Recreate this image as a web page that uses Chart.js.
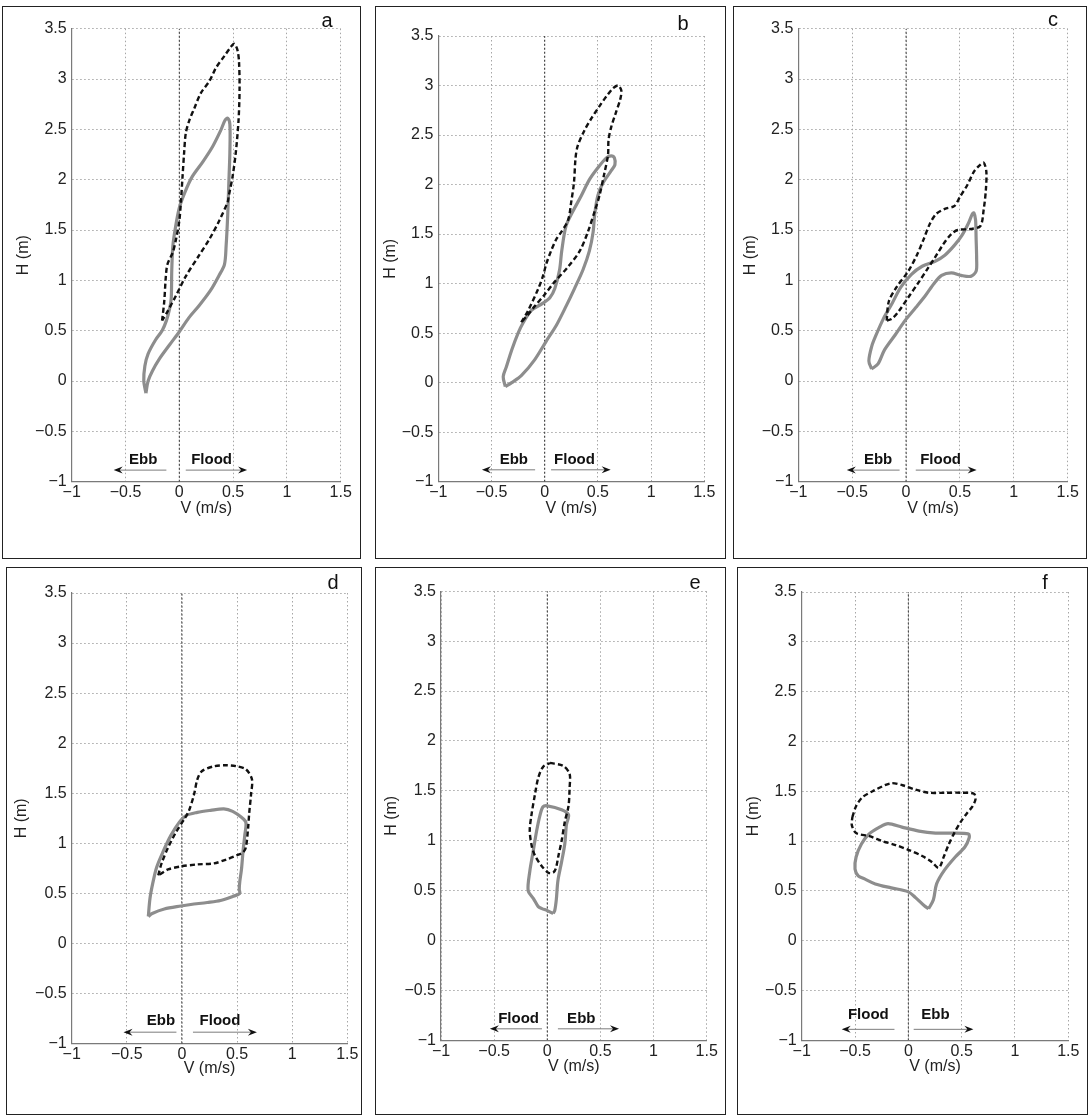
<!DOCTYPE html>
<html><head><meta charset="utf-8">
<script src="https://cdn.jsdelivr.net/npm/chart.js@4.4.0/dist/chart.umd.min.js"></script>
<style>
html,body{margin:0;padding:0;background:#fff;width:1089px;height:1117px;overflow:hidden;position:relative;}
canvas{position:absolute;}
.box{position:absolute;box-sizing:border-box;border:1.6px solid #222;pointer-events:none;}
.lab{position:absolute;font:20px "Liberation Sans",Arial,sans-serif;color:#111;transform:translate(-50%,-50%);}
</style></head><body>
<script>
// ---- axis ticks ----
const xTicks = [-1, -0.5, 0, 0.5, 1, 1.5];
const yTicks = [-1, -0.5, 0, 0.5, 1, 1.5, 2, 2.5, 3, 3.5];
const zeroLineV = [0, 0];
const zeroLineH = [-1, 3.5];

// ---- panel a ----
const solidA = [[-0.31,-0.12],[-0.33,0.0],[-0.32,0.15],[-0.29,0.27],[-0.22,0.41],[-0.16,0.50],[-0.12,0.60],[-0.09,0.72],[-0.075,0.82],[-0.07,1.10],[-0.06,1.34],[-0.035,1.53],[0,1.72],[0.05,1.87],[0.12,2.03],[0.22,2.18],[0.31,2.33],[0.385,2.49],[0.425,2.59],[0.45,2.61],[0.47,2.55],[0.47,2.27],[0.46,1.96],[0.45,1.65],[0.435,1.34],[0.42,1.16],[0.37,1.05],[0.29,0.90],[0.185,0.75],[0.09,0.63],[0,0.49],[-0.09,0.36],[-0.185,0.22],[-0.25,0.10],[-0.29,0.0],[-0.31,-0.12]];
const dashA = [[-0.16,0.60],[-0.14,0.79],[-0.125,1.04],[-0.11,1.16],[-0.06,1.28],[-0.03,1.41],[0,1.59],[0.015,1.78],[0.03,2.03],[0.045,2.27],[0.06,2.46],[0.09,2.58],[0.14,2.71],[0.2,2.86],[0.28,2.98],[0.34,3.11],[0.42,3.23],[0.48,3.32],[0.51,3.35],[0.54,3.29],[0.555,3.17],[0.56,2.89],[0.55,2.58],[0.525,2.27],[0.495,2.03],[0.46,1.84],[0.45,1.78],[0.37,1.59],[0.28,1.41],[0.185,1.25],[0.06,1.04],[-0.03,0.85],[-0.11,0.69],[-0.16,0.60]];
const arrowsA = [[-0.12,-0.61],[0.06,0.63]];
const arrowYA = -0.885;
const tagsA = ['Ebb','Flood'];
const tagXA = [-0.335, 0.30];
const tagYA = -0.78;

// ---- panel b ----
const solidB = [[-0.37,-0.04],[-0.39,0.06],[-0.36,0.16],[-0.31,0.33],[-0.25,0.50],[-0.2,0.61],[-0.125,0.73],[-0.02,0.80],[0.05,0.86],[0.095,0.95],[0.14,1.14],[0.16,1.33],[0.2,1.58],[0.265,1.73],[0.345,1.89],[0.42,2.05],[0.5,2.17],[0.58,2.27],[0.625,2.29],[0.655,2.27],[0.66,2.2],[0.625,2.14],[0.55,2.02],[0.5,1.89],[0.47,1.70],[0.455,1.52],[0.42,1.33],[0.36,1.14],[0.28,0.95],[0.2,0.77],[0.11,0.58],[0.015,0.42],[-0.095,0.23],[-0.22,0.07],[-0.31,0.0],[-0.37,-0.04]];
const dashB = [[-0.22,0.61],[-0.155,0.73],[-0.06,0.95],[-0.015,1.08],[0.015,1.20],[0.06,1.33],[0.11,1.45],[0.155,1.52],[0.22,1.64],[0.25,1.83],[0.275,2.02],[0.29,2.27],[0.31,2.39],[0.375,2.55],[0.44,2.67],[0.52,2.80],[0.58,2.89],[0.64,2.97],[0.69,3.0],[0.72,2.95],[0.71,2.86],[0.67,2.73],[0.625,2.58],[0.6,2.45],[0.595,2.30],[0.56,2.11],[0.515,1.89],[0.47,1.73],[0.405,1.52],[0.33,1.33],[0.22,1.17],[0.095,1.02],[0,0.89],[-0.095,0.77],[-0.17,0.67],[-0.22,0.61]];
const arrowsB = [[-0.09,-0.59],[0.06,0.62]];
const arrowYB = -0.88;
const tagsB = ['Ebb','Flood'];
const tagXB = [-0.29, 0.28];
const tagYB = -0.78;

// ---- panel c ----
const solidC = [[-0.32,0.12],[-0.345,0.2],[-0.32,0.34],[-0.285,0.44],[-0.21,0.62],[-0.13,0.77],[-0.05,0.93],[0.05,1.06],[0.15,1.14],[0.27,1.19],[0.36,1.25],[0.45,1.35],[0.52,1.45],[0.58,1.57],[0.615,1.66],[0.63,1.67],[0.645,1.6],[0.65,1.42],[0.655,1.21],[0.65,1.09],[0.6,1.04],[0.51,1.05],[0.42,1.075],[0.33,1.05],[0.26,0.97],[0.18,0.85],[0.09,0.73],[-0.01,0.6],[-0.1,0.46],[-0.2,0.31],[-0.26,0.17],[-0.32,0.12]];
const dashC = [[-0.18,0.6],[-0.16,0.79],[-0.09,0.93],[0.02,1.09],[0.1,1.25],[0.16,1.40],[0.22,1.56],[0.28,1.66],[0.36,1.71],[0.45,1.74],[0.5,1.83],[0.57,1.95],[0.63,2.08],[0.68,2.14],[0.72,2.17],[0.745,2.08],[0.74,1.89],[0.72,1.70],[0.69,1.54],[0.6,1.51],[0.48,1.50],[0.42,1.46],[0.34,1.35],[0.27,1.23],[0.19,1.10],[0.11,0.97],[0.02,0.83],[-0.07,0.69],[-0.13,0.62],[-0.18,0.6]];
const arrowsC = [[-0.06,-0.55],[0.09,0.655]];
const arrowYC = -0.885;
const tagsC = ['Ebb','Flood'];
const tagXC = [-0.26, 0.32];
const tagYC = -0.785;

// ---- panel d ----
const solidD = [[-0.305,0.27],[-0.29,0.45],[-0.265,0.60],[-0.23,0.76],[-0.17,0.92],[-0.1,1.08],[-0.025,1.21],[0.04,1.28],[0.14,1.31],[0.26,1.33],[0.38,1.345],[0.46,1.32],[0.54,1.26],[0.58,1.21],[0.57,1.08],[0.555,0.93],[0.54,0.74],[0.525,0.62],[0.52,0.54],[0.525,0.50],[0.46,0.47],[0.35,0.43],[0.23,0.41],[0.08,0.39],[-0.01,0.375],[-0.16,0.345],[-0.27,0.30],[-0.305,0.27]];
const dashD = [[-0.215,0.68],[-0.185,0.80],[-0.125,0.96],[-0.055,1.11],[0.02,1.24],[0.065,1.33],[0.11,1.49],[0.14,1.64],[0.18,1.72],[0.29,1.77],[0.405,1.78],[0.495,1.77],[0.58,1.74],[0.635,1.64],[0.627,1.49],[0.61,1.30],[0.6,1.15],[0.58,0.96],[0.555,0.91],[0.495,0.88],[0.405,0.84],[0.29,0.80],[0.14,0.79],[-0.01,0.77],[-0.125,0.74],[-0.2,0.69],[-0.215,0.68]];
const arrowsD = [[-0.05,-0.53],[0.10,0.68]];
const arrowYD = -0.885;
const tagsD = ['Ebb','Flood'];
const tagXD = [-0.19, 0.345];
const tagYD = -0.775;

// ---- panel e ----
const solidE = [[0.055,0.27],[0.0,0.30],[-0.05,0.32],[-0.085,0.34],[-0.13,0.42],[-0.18,0.50],[-0.165,0.69],[-0.13,0.91],[-0.1,1.10],[-0.07,1.25],[-0.04,1.34],[0,1.35],[0.135,1.31],[0.2,1.26],[0.18,1.16],[0.165,0.97],[0.135,0.79],[0.1,0.60],[0.085,0.41],[0.07,0.30],[0.055,0.27]];
const dashE = [[0.025,1.78],[0.15,1.75],[0.21,1.67],[0.21,1.53],[0.2,1.35],[0.165,1.19],[0.135,1.0],[0.105,0.85],[0.08,0.72],[0.055,0.68],[0.01,0.68],[-0.055,0.75],[-0.115,0.85],[-0.145,0.94],[-0.165,1.10],[-0.15,1.25],[-0.115,1.47],[-0.085,1.63],[-0.04,1.74],[0.025,1.78]];
const arrowsE = [[-0.05,-0.54],[0.10,0.675]];
const arrowYE = -0.885;
const tagsE = ['Flood','Ebb'];
const tagXE = [-0.27, 0.32];
const tagYE = -0.79;

// ---- panel f ----
const solidF = [[0.19,0.32],[0.235,0.41],[0.265,0.57],[0.34,0.71],[0.44,0.84],[0.53,0.94],[0.57,1.03],[0.565,1.07],[0.41,1.08],[0.255,1.08],[0.1,1.10],[-0.06,1.14],[-0.19,1.175],[-0.27,1.14],[-0.37,1.07],[-0.44,0.97],[-0.49,0.84],[-0.5,0.72],[-0.47,0.65],[-0.41,0.62],[-0.31,0.57],[-0.16,0.53],[0.0,0.49],[0.07,0.43],[0.15,0.35],[0.19,0.32]];
const dashF = [[-0.525,1.24],[-0.49,1.35],[-0.43,1.44],[-0.335,1.50],[-0.165,1.58],[-0.055,1.56],[0.07,1.515],[0.19,1.485],[0.35,1.485],[0.5,1.485],[0.615,1.475],[0.63,1.42],[0.6,1.345],[0.55,1.28],[0.49,1.19],[0.43,1.08],[0.38,0.97],[0.335,0.85],[0.285,0.73],[0.22,0.79],[0.13,0.85],[0.005,0.91],[-0.12,0.96],[-0.245,1.0],[-0.365,1.05],[-0.49,1.08],[-0.53,1.16],[-0.525,1.24]];
const arrowsF = [[-0.13,-0.625],[0.05,0.61]];
const arrowYF = -0.89;
const tagsF = ['Flood','Ebb'];
const tagXF = [-0.375, 0.255];
const tagYF = -0.74;

const panelLetters = ['a','b','c','d','e','f'];

// ---------------- drawing ----------------
const FONT = '"Liberation Sans", Arial, Helvetica, sans-serif';
const toPts = arr => arr.map(p => ({x: p[0], y: p[1]}));
const fmt = v => (v < 0 ? '\u2212' + Math.abs(v) : String(v));

const arrowPlugin = {
  id: 'flowArrows',
  afterDatasetsDraw(chart, args, o) {
    const ctx = chart.ctx, xs = chart.scales.x, ys = chart.scales.y;
    ctx.save();
    const py = ys.getPixelForValue(o.y);
    o.arrows.forEach(([from, to]) => {
      const x1 = xs.getPixelForValue(from), x2 = xs.getPixelForValue(to);
      const dir = Math.sign(x2 - x1);
      ctx.strokeStyle = '#7c7c7c'; ctx.lineWidth = 1;
      ctx.beginPath(); ctx.moveTo(x1, py); ctx.lineTo(x2 - dir * 4, py); ctx.stroke();
      ctx.fillStyle = '#111';
      ctx.beginPath(); ctx.moveTo(x2, py); ctx.lineTo(x2 - dir * 9, py - 3.5);
      ctx.lineTo(x2 - dir * 6, py); ctx.lineTo(x2 - dir * 9, py + 3.5); ctx.closePath(); ctx.fill();
    });
    ctx.font = 'bold 15px ' + FONT;
    ctx.fillStyle = '#111'; ctx.textAlign = 'center'; ctx.textBaseline = 'middle';
    const ty = ys.getPixelForValue(o.tagY);
    o.tags.forEach((t, i) => ctx.fillText(t, xs.getPixelForValue(o.tagX[i]), ty));
    ctx.restore();
  }
};

// layout (pixels): box = [left, top, width, height]; plot insets inside the box
const panels = [
  {box:[2,6,359,553],   yW:69.7, padTop:22.7, padRight:20.3, xH:77.3, ytPad:11.5, xtPad:41, letter:[327,20],
   solid:solidA, dash:dashA, arrows:arrowsA, ay:arrowYA, tags:tagsA, tagX:tagXA, tagY:tagYA},
  {box:[375,6,351,553], yW:63.3, padTop:30,   padRight:21.7, xH:77.3, ytPad:5.5,  xtPad:41, letter:[683,23],
   solid:solidB, dash:dashB, arrows:arrowsB, ay:arrowYB, tags:tagsB, tagX:tagXB, tagY:tagYB},
  {box:[733,6,354,553], yW:65.3, padTop:22.7, padRight:19.3, xH:77.3, ytPad:7.5,  xtPad:41, letter:[1053,19],
   solid:solidC, dash:dashC, arrows:arrowsC, ay:arrowYC, tags:tagsC, tagX:tagXC, tagY:tagYC},
  {box:[6,567,356,548], yW:65.7, padTop:26,   padRight:14.7, xH:71.3, ytPad:6, xtPad:36.7, letter:[333,582],
   solid:solidD, dash:dashD, arrows:arrowsD, ay:arrowYD, tags:tagsD, tagX:tagXD, tagY:tagYD},
  {box:[375,567,351,548], yW:66, padTop:24.3, padRight:19.3, xH:74.7, ytPad:7, xtPad:38.4, letter:[695,582],
   solid:solidE, dash:dashE, arrows:arrowsE, ay:arrowYE, tags:tagsE, tagX:tagXE, tagY:tagYE},
  {box:[737,567,351,548], yW:64.7, padTop:25, padRight:19.7, xH:74.7, ytPad:6.7, xtPad:38.4, letter:[1045,582],
   solid:solidF, dash:dashF, arrows:arrowsF, ay:arrowYF, tags:tagsF, tagX:tagXF, tagY:tagYF}
];

panels.forEach((p, i) => {
  const cv = document.createElement('canvas');
  cv.width = p.box[2]; cv.height = p.box[3];
  cv.style.left = p.box[0] + 'px'; cv.style.top = p.box[1] + 'px';
  cv.style.width = p.box[2] + 'px'; cv.style.height = p.box[3] + 'px';
  document.body.appendChild(cv);
  const bd = document.createElement('div');
  bd.className = 'box';
  bd.style.left = p.box[0] + 'px'; bd.style.top = p.box[1] + 'px';
  bd.style.width = p.box[2] + 'px'; bd.style.height = p.box[3] + 'px';
  document.body.appendChild(bd);
  const lb = document.createElement('div');
  lb.className = 'lab'; lb.textContent = panelLetters[i];
  lb.style.left = p.letter[0] + 'px'; lb.style.top = p.letter[1] + 'px';
  document.body.appendChild(lb);

  const tickFont = {family: FONT, size: 16};
  const gridOpt = {color: '#a6a6a6', lineWidth: 1, drawTicks: false};
  const borderOpt = {display: true, color: '#7a7a7a', width: 1.2, dash: [1.5, 2.5]};

  new Chart(cv, {
    type: 'scatter',
    data: {datasets: [
      {data: toPts(p.dash), showLine: true, borderColor: '#111', borderWidth: 2.4, borderDash: [5, 3],
       pointRadius: 0, tension: 0.3, fill: false, order: 0},
      {data: toPts(p.solid), showLine: true, borderColor: '#8d8d8d', borderWidth: 3.2,
       pointRadius: 0, tension: 0.3, fill: false, order: 1},
      {data: zeroLineV.map((v, k) => ({x: v, y: zeroLineH[k]})), showLine: true, borderColor: '#333',
       borderWidth: 1, borderDash: [2, 2], pointRadius: 0, tension: 0, fill: false, order: 2}
    ]},
    options: {
      responsive: false, animation: false, devicePixelRatio: 1,
      layout: {padding: {left: 0, top: p.padTop, right: p.padRight, bottom: 0}},
      plugins: {legend: {display: false}, tooltip: {enabled: false},
        flowArrows: {arrows: p.arrows, y: p.ay, tags: p.tags, tagX: p.tagX, tagY: p.tagY}},
      scales: {
        x: {type: 'linear', position: 'bottom', min: -1, max: 1.5,
          afterBuildTicks: s => { s.ticks = xTicks.map(v => ({value: v})); },
          afterFit: s => { s.height = p.xH; },
          ticks: {font: tickFont, color: '#222', padding: 1.5, autoSkip: false, maxRotation: 0, callback: v => fmt(v)},
          grid: gridOpt, border: borderOpt,
          title: {display: true, text: 'V (m/s)', font: {family: FONT, size: 16}, color: '#222', padding: {top: 0, bottom: p.xtPad}}},
        y: {type: 'linear', position: 'left', min: -1, max: 3.5,
          afterBuildTicks: s => { s.ticks = yTicks.map(v => ({value: v})); },
          afterFit: s => { s.width = p.yW; },
          ticks: {font: tickFont, color: '#222', padding: 5, autoSkip: false, callback: v => fmt(v)},
          grid: gridOpt, border: borderOpt,
          title: {display: true, text: 'H (m)', font: {family: FONT, size: 16}, color: '#222', padding: {top: p.ytPad, bottom: 0}}}
      }
    },
    plugins: [arrowPlugin]
  });
});
</script>
</body></html>
